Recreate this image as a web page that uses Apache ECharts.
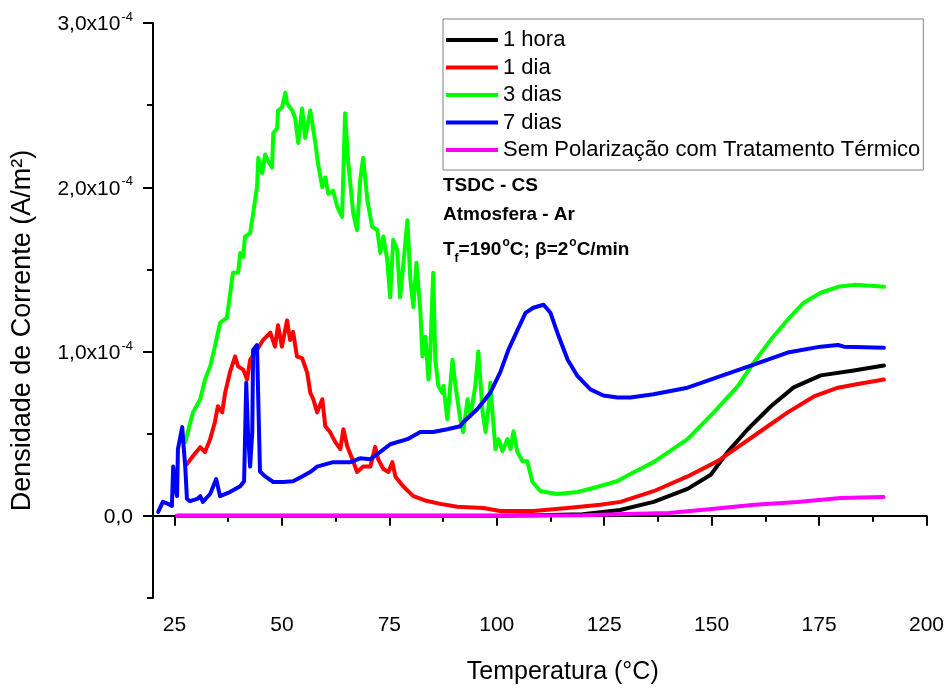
<!DOCTYPE html>
<html>
<head>
<meta charset="utf-8">
<script src="https://cdn.jsdelivr.net/npm/echarts@6/dist/echarts.min.js"></script>
<style>
html,body{margin:0;padding:0;background:#fff;}
#chart{width:947px;height:690px;}
</style>
</head>
<body>
<div id="chart"></div>
<script>
// Current density values are in units of 1e-4 A/m^2; temperatures in °C
var UNIT = 1e-4;

var seriesNames = ['1 hora', '1 dia', '3 dias', '7 dias', 'Sem Polarização com Tratamento Térmico'];

var horaT = [25.6, 100, 110, 120, 128.7, 136.5, 144.4, 149.8, 153.7, 158.4, 163.8, 169.1, 175.4, 183.1, 190.1];
var horaJ = [0, 0, 0.003, 0.01, 0.036, 0.085, 0.164, 0.25, 0.388, 0.527, 0.667, 0.782, 0.855, 0.885, 0.915];

var diaT = [27.9, 29.3, 31.0, 32.1, 33.3, 34.4, 35.1, 36.1, 36.8, 37.9, 39.1, 39.8, 41.0, 41.9, 42.6, 44.2, 45.6, 47.3, 48.4, 49.1, 50.0, 51.2, 51.9, 52.6, 53.5, 54.7, 55.9, 56.6, 57.3, 58.2, 59.4, 60.1, 61.2, 62.4, 63.6, 64.3, 65.2, 66.4, 67.5, 68.9, 70.6, 71.7, 72.4, 73.6, 74.8, 75.7, 76.4, 78.2, 80.6, 83.8, 86.9, 90.8, 96.9, 100.8, 108.5, 116.5, 124.1, 128.8, 136.5, 144.4, 151.4, 156.1, 161.4, 167.7, 173.8, 179.4, 184.7, 190.1];
var diaJ = [0.315, 0.364, 0.418, 0.388, 0.467, 0.57, 0.667, 0.63, 0.75, 0.873, 0.97, 0.91, 0.89, 0.83, 0.95, 1.01, 1.07, 1.115, 1.03, 1.16, 1.03, 1.19, 1.07, 1.12, 0.97, 0.96, 0.87, 0.75, 0.71, 0.63, 0.71, 0.545, 0.51, 0.45, 0.406, 0.527, 0.424, 0.345, 0.267, 0.30, 0.30, 0.42, 0.345, 0.285, 0.267, 0.327, 0.24, 0.18, 0.12, 0.09, 0.073, 0.055, 0.048, 0.03, 0.03, 0.048, 0.067, 0.085, 0.15, 0.24, 0.333, 0.418, 0.515, 0.63, 0.727, 0.78, 0.806, 0.83];

var dias3T = [27.5, 29.3, 31.0, 32.1, 33.3, 34.4, 35.6, 37.2, 38.6, 39.8, 40.3, 41.0, 41.4, 42.6, 43.3, 44.2, 44.5, 45.4, 46.1, 46.8, 47.7, 48.0, 48.9, 49.1, 50.0, 50.8, 51.2, 52.4, 53.1, 53.8, 54.7, 55.4, 56.6, 57.7, 58.4, 59.4, 60.1, 60.8, 61.9, 62.9, 64.0, 64.7, 65.4, 66.6, 67.5, 68.2, 68.9, 69.9, 71.0, 72.2, 72.9, 73.6, 74.5, 75.2, 75.9, 76.8, 77.5, 78.2, 79.2, 79.9, 80.6, 81.3, 82.2, 82.7, 83.4, 84.1, 84.5, 85.2, 85.7, 86.4, 87.3, 87.6, 88.5, 89.7, 90.4, 91.5, 92.2, 93.2, 93.9, 95.0, 95.7, 96.7, 97.4, 98.1, 98.5, 99.0, 99.7, 100.4, 101.3, 102.5, 103.2, 103.9, 104.8, 106.0, 107.1, 108.3, 110.2, 114.1, 118.8, 123.4, 128.1, 131.1, 136.5, 144.4, 150.5, 156.1, 159.8, 163.8, 167.7, 171.4, 175.4, 179.4, 183.1, 187.1, 190.1];
var dias3J = [0.45, 0.63, 0.71, 0.83, 0.91, 1.03, 1.175, 1.205, 1.48, 1.48, 1.60, 1.576, 1.70, 1.72, 1.84, 2.0, 2.18, 2.085, 2.2, 2.16, 2.12, 2.33, 2.36, 2.467, 2.485, 2.576, 2.51, 2.467, 2.42, 2.27, 2.48, 2.30, 2.467, 2.285, 2.145, 2.0, 2.06, 1.96, 1.98, 1.88, 1.82, 2.45, 2.16, 1.84, 1.74, 2.04, 2.18, 1.92, 1.76, 1.74, 1.60, 1.70, 1.56, 1.33, 1.68, 1.62, 1.33, 1.515, 1.80, 1.436, 1.27, 1.54, 1.255, 0.97, 1.09, 0.83, 0.97, 1.48, 0.95, 0.79, 0.75, 0.79, 0.588, 0.95, 0.79, 0.588, 0.51, 0.71, 0.606, 0.79, 1.0, 0.63, 0.51, 0.667, 0.81, 0.63, 0.406, 0.467, 0.394, 0.467, 0.406, 0.515, 0.388, 0.333, 0.333, 0.206, 0.15, 0.133, 0.145, 0.176, 0.212, 0.255, 0.327, 0.467, 0.63, 0.79, 0.933, 1.073, 1.194, 1.297, 1.358, 1.394, 1.406, 1.40, 1.394];

var dias7T = [21.2, 22.3, 23.5, 24.4, 24.7, 25.1, 25.6, 25.8, 26.8, 27.0, 27.5, 27.9, 28.6, 30.3, 31.0, 31.6, 33.3, 34.7, 35.6, 37.9, 40.3, 41.2, 41.7, 42.1, 42.6, 43.1, 43.3, 44.2, 44.5, 44.9, 46.1, 48.0, 50.3, 52.6, 54.7, 56.6, 58.2, 61.9, 65.9, 68.2, 70.6, 72.9, 75.2, 79.2, 82.2, 85.2, 88.5, 91.5, 92.2, 95.5, 98.5, 100.8, 102.7, 104.8, 106.7, 108.5, 110.9, 112.5, 114.1, 116.5, 118.8, 121.8, 124.8, 128.1, 131.1, 136.5, 144.4, 152.1, 159.8, 167.7, 175.4, 179.4, 180.8, 190.1];
var dias7J = [0.024, 0.085, 0.073, 0.06, 0.30, 0.18, 0.12, 0.406, 0.54, 0.467, 0.30, 0.103, 0.09, 0.103, 0.12, 0.085, 0.133, 0.224, 0.12, 0.145, 0.18, 0.21, 0.81, 0.51, 0.30, 0.51, 1.01, 1.04, 0.71, 0.27, 0.24, 0.206, 0.206, 0.21, 0.24, 0.267, 0.30, 0.327, 0.327, 0.35, 0.345, 0.39, 0.436, 0.467, 0.51, 0.51, 0.527, 0.545, 0.57, 0.65, 0.75, 0.873, 1.01, 1.13, 1.236, 1.267, 1.285, 1.236, 1.115, 0.95, 0.85, 0.77, 0.733, 0.72, 0.72, 0.74, 0.78, 0.85, 0.92, 0.994, 1.03, 1.04, 1.03, 1.024];

var semT = [25.6, 100, 120, 130, 140, 150, 160, 170, 175, 180, 190];
var semJ = [0, 0, 0.003, 0.012, 0.018, 0.042, 0.067, 0.085, 0.097, 0.109, 0.115];

var xMajorTicks = [25, 50, 75, 100, 125, 150, 175, 200];
var xMinorTicks = [37.5, 62.5, 87.5, 112.5, 137.5, 162.5, 187.5];
var yMajorTicks = [0, 1, 2, 3];
var yMinorTicks = [-0.5, 0.5, 1.5, 2.5];

var colors = ['#000000', '#ff0000', '#00ff00', '#0000ff', '#ff00ff'];
var FONT = "'Liberation Sans', Arial, Helvetica, sans-serif";

function pairs(t, j) {
  return t.map(function (v, i) { return [v, j[i] * UNIT]; });
}
var allData = [pairs(horaT, horaJ), pairs(diaT, diaJ), pairs(dias3T, dias3J), pairs(dias7T, dias7J), pairs(semT, semJ)];

var chart = echarts.init(document.getElementById('chart'), null, {renderer: 'canvas'});

function scaled(arr) { return arr.map(function (v) { return v * UNIT; }); }

var option = {
  backgroundColor: '#ffffff',
  animation: false,
  textStyle: {fontFamily: FONT},
  grid: {left: 153, right: 20, top: 23, bottom: 90, containLabel: false},
  legend: {
    orient: 'vertical',
    left: 443, top: 19,
    padding: [10, 3, 9, 3],
    itemGap: 5.5,
    itemWidth: 52, itemHeight: 4,
    itemTextGap: 5,
    icon: 'rect',
    borderColor: '#808080', borderWidth: 1, borderRadius: 0,
    backgroundColor: '#ffffff',
    textStyle: {fontSize: 22, color: '#000', fontFamily: FONT, lineHeight: 22},
    data: seriesNames
  },
  xAxis: [{
    type: 'value', min: 20, max: 200, position: 'bottom',
    name: 'Temperatura (°C)', nameLocation: 'middle', nameGap: 62,
    nameTextStyle: {fontSize: 25, color: '#000', fontFamily: FONT, padding: [0, 0, 0, 46]},
    axisLine: {show: true, lineStyle: {color: '#000', width: 2}},
    axisTick: {show: true, inside: false, length: 10, lineStyle: {color: '#000', width: 2}, customValues: xMajorTicks},
    axisLabel: {show: true, fontSize: 21, color: '#000', margin: 17, fontFamily: FONT, customValues: xMajorTicks, showMinLabel: true, showMaxLabel: true},
    splitLine: {show: false}
  }, {
    type: 'value', min: 20, max: 200, position: 'bottom', offset: 0,
    axisLine: {show: false},
    axisTick: {show: true, inside: false, length: 6, lineStyle: {color: '#000', width: 2}, customValues: xMinorTicks},
    axisLabel: {show: false},
    splitLine: {show: false}
  }],
  yAxis: [{
    type: 'value', min: -0.5 * UNIT, max: 3 * UNIT, position: 'left',
    name: 'Densidade de Corrente (A/m²)', nameLocation: 'middle', nameGap: 117,
    nameTextStyle: {fontSize: 27, color: '#000', fontFamily: FONT, padding: [0, 40, 0, 0]},
    axisLine: {show: true, lineStyle: {color: '#000', width: 2}},
    axisTick: {show: true, inside: false, length: 10, lineStyle: {color: '#000', width: 2}, customValues: scaled(yMajorTicks)},
    axisLabel: {
      show: true, margin: 20, customValues: scaled(yMajorTicks),
      formatter: function (v) {
        var n = Math.round(v / UNIT * 10) / 10;
        var s = n.toFixed(1).replace('.', ',');
        if (n === 0) return '{a|' + s + '}';
        return '{a|' + s + 'x10}{s|-4}';
      },
      rich: {
        a: {fontSize: 21, color: '#000', fontFamily: FONT, lineHeight: 24, verticalAlign: 'bottom'},
        s: {fontSize: 13, color: '#000', fontFamily: FONT, lineHeight: 24, verticalAlign: 'top', padding: [0, 0, 0, 1]}
      }
    },
    splitLine: {show: false}
  }, {
    type: 'value', min: -0.5 * UNIT, max: 3 * UNIT, position: 'left', offset: 0,
    axisLine: {show: false},
    axisTick: {show: true, inside: false, length: 6, lineStyle: {color: '#000', width: 2}, customValues: scaled(yMinorTicks)},
    axisLabel: {show: false},
    splitLine: {show: false}
  }],
  graphic: [
    {type: 'text', left: 443, top: 176, style: {text: 'TSDC - CS', font: 'bold 19px ' + FONT, fill: '#000'}},
    {type: 'text', left: 443, top: 205, style: {text: 'Atmosfera - Ar', font: 'bold 19px ' + FONT, fill: '#000'}},
    {type: 'text', left: 443, top: 235, style: {
      text: '{t|T}{f|f}{t|=190}{o|o}{t|C; β=2}{o|o}{t|C/min}',
      rich: {
        t: {font: 'bold 19px ' + FONT, fill: '#000', lineHeight: 30, verticalAlign: 'middle'},
        f: {font: 'bold 12px ' + FONT, fill: '#000', lineHeight: 30, verticalAlign: 'bottom'},
        o: {font: 'bold 12px ' + FONT, fill: '#000', lineHeight: 30, verticalAlign: 'top', padding: [2, 0, 0, 1]}
      }
    }}
  ],
  series: allData.map(function (d, i) {
    return {
      name: seriesNames[i], type: 'line', data: d,
      xAxisIndex: 0, yAxisIndex: 0,
      showSymbol: false, symbol: 'none',
      smooth: false,
      lineStyle: {color: colors[i], width: 4, cap: 'round', join: 'round'},
      itemStyle: {color: colors[i]},
      z: 2 + i
    };
  })
};
chart.setOption(option);
</script>
</body>
</html>
